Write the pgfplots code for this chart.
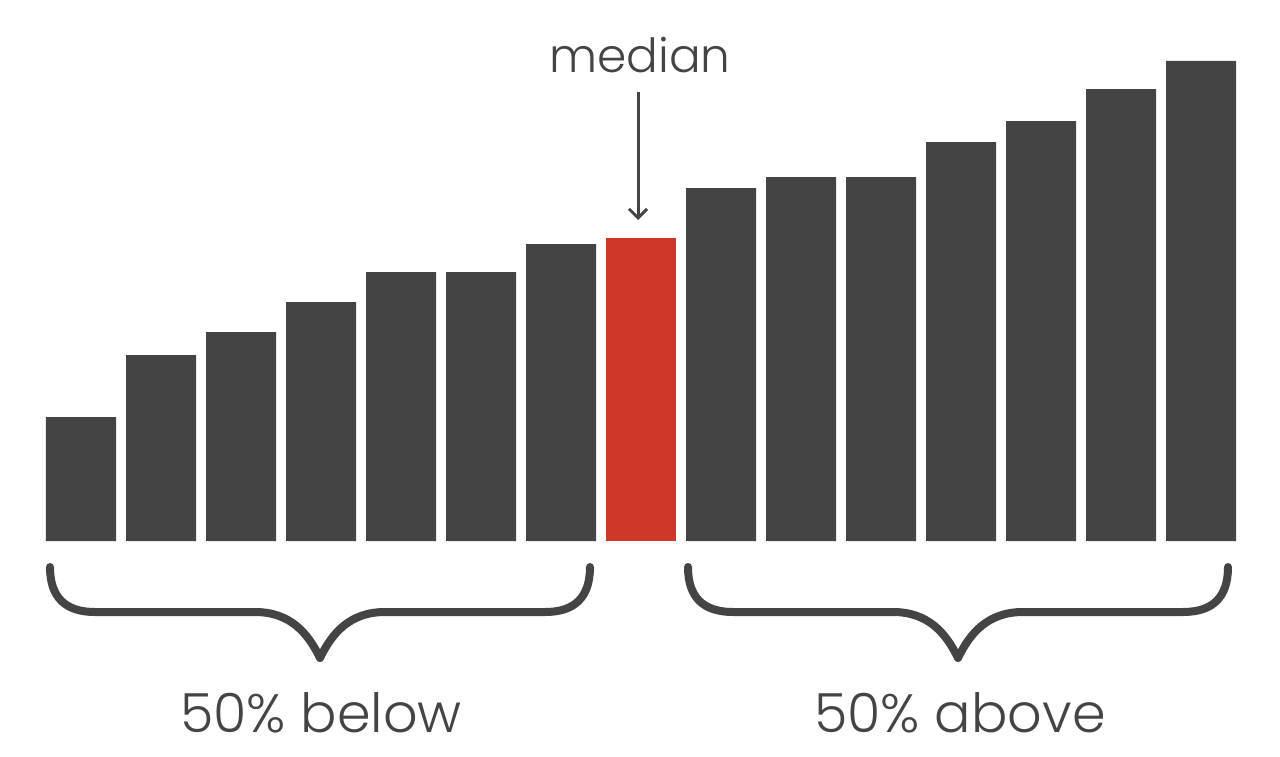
\documentclass[border=0pt]{standalone}
\usepackage{pgfplots}
\pgfplotsset{compat=1.18}
\usetikzlibrary{arrows.meta}
\usepackage{fontspec}
\setmainfont{Poppins}[UprightFont={* Light}]
\definecolor{dark}{HTML}{444444}
\definecolor{medred}{HTML}{CF3828}
\begin{document}
\begin{tikzpicture}
\begin{axis}[
  hide axis,
  scale only axis,
  x=80pt, y=1pt,
  xmin=-0.4375, xmax=14.4375,
  ymin=0, ymax=480,
  clip=false,
  ybar, bar width=70pt, bar shift=0pt,
]
\addplot[fill=dark, draw=none] coordinates {
 (0,124) (1,186) (2,209) (3,239) (4,269) (5,269) (6,297)
 (8,353) (9,364) (10,364) (11,399) (12,420) (13,452) (14,480)};
\addplot[fill=medred, draw=none] coordinates {(7,303)};
\coordinate (bl) at (axis cs:-1.0125,-215);
\coordinate (tr) at (axis cs:14.9875,541);
\node[anchor=base, text=dark, font=\fontsize{47}{50}\selectfont] at (axis cs:6.9875,468) {median};
\draw[dark, line width=3pt, -{Straight Barb[length=9pt,width=18pt,line width=3pt]}] (axis cs:6.9625,449) -- (axis cs:6.9625,321);
\node[anchor=base, text=dark, font=\fontsize{54}{56}\selectfont] at (axis cs:3.0,-191) {50\% below};
\node[anchor=base, text=dark, font=\fontsize{54}{56}\selectfont] at (axis cs:10.9875,-191) {50\% above};
\draw[dark, line width=8pt, line cap=round, line join=round]
  (axis cs:-0.3875,-26) .. controls +(0pt,-30pt) and +(-30pt,0pt) .. ++(45pt,-45pt)
  -- ++(160pt,0pt)
  .. controls +(35pt,0pt) and +(-12pt,25pt) .. ++(65pt,-46pt)
  .. controls +(12pt,25pt) and +(-35pt,0pt) .. ++(65pt,46pt)
  -- ++(160pt,0pt)
  .. controls +(30pt,0pt) and +(0pt,-30pt) .. ++(45pt,45pt);
\draw[dark, line width=8pt, line cap=round, line join=round]
  (axis cs:7.5875,-26) .. controls +(0pt,-30pt) and +(-30pt,0pt) .. ++(45pt,-45pt)
  -- ++(160pt,0pt)
  .. controls +(35pt,0pt) and +(-12pt,25pt) .. ++(65pt,-46pt)
  .. controls +(12pt,25pt) and +(-35pt,0pt) .. ++(65pt,46pt)
  -- ++(160pt,0pt)
  .. controls +(30pt,0pt) and +(0pt,-30pt) .. ++(45pt,45pt);
\end{axis}
\useasboundingbox (bl) rectangle (tr);
\end{tikzpicture}
\end{document}
